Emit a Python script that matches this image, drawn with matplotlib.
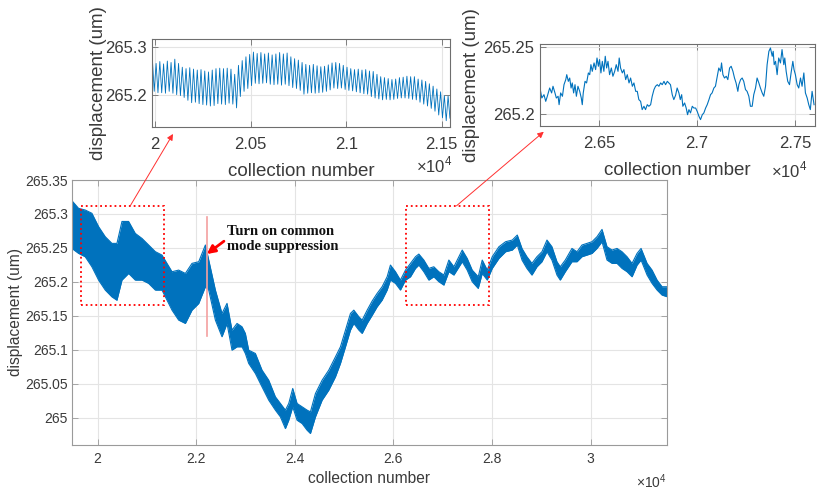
import numpy as np
import matplotlib.pyplot as plt
from matplotlib.patches import Rectangle, ConnectionPatch

plt.rcParams['font.family'] = ['Liberation Sans', 'DejaVu Sans']
plt.rcParams['mathtext.fontset'] = 'custom'
plt.rcParams['mathtext.rm'] = 'Liberation Sans'

# full record: upper / lower edge of the noisy displacement band
main_x = [19478, 19613, 19749, 19884, 20020, 20155, 20290, 20392, 20494, 20629,
          20764, 20900, 21035, 21171, 21306, 21509, 21644, 21780, 21915, 22051,
          22186, 22254, 22389, 22523, 22625, 22726, 22828, 22929, 22997, 23065,
          23200, 23335, 23471, 23606, 23708, 23809, 23877, 23958, 24046, 24148,
          24249, 24317, 24419, 24554, 24689, 24825, 24926, 25028, 25129, 25197,
          25299, 25366, 25468, 25570, 25670, 25771, 25873, 25940, 26042, 26143,
          26245, 26347, 26448, 26516, 26617, 26719, 26820, 26922, 27024, 27125,
          27227, 27396, 27497, 27599, 27721, 27802, 27904, 28005, 28141, 28276,
          28411, 28513, 28610, 28708, 28810, 28912, 29013, 29115, 29216, 29318,
          29385, 29487, 29622, 29724, 29825, 29927, 30029, 30130, 30232, 30333,
          30435, 30536, 30638, 30739, 30841, 30943, 31024, 31146, 31247, 31349,
          31450, 31552]
main_hi = [265.3196, 265.3083, 265.3058, 265.3010, 265.2813, 265.2665, 265.2567, 265.2567, 265.2890, 265.2890,
           265.2714, 265.2640, 265.2543, 265.2445, 265.2395, 265.2150, 265.2174, 265.2125, 265.2273, 265.2297,
           265.2543, 265.2322, 265.1880, 265.1536, 265.1684, 265.1290, 265.1389, 265.1340, 265.1242, 265.0996,
           265.0947, 265.0702, 265.0554, 265.0309, 265.0211, 265.0113, 265.0211, 265.0432, 265.0211, 265.0162,
           265.0113, 265.0088, 265.0358, 265.0554, 265.0702, 265.0898, 265.1045, 265.1291, 265.1536, 265.1585,
           265.1487, 265.1438, 265.1585, 265.1720, 265.1831, 265.1929, 265.2076, 265.2248, 265.2150, 265.2027,
           265.2174, 265.2273, 265.2371, 265.2410, 265.2322, 265.2199, 265.2223, 265.2150, 265.2101, 265.2322,
           265.2223, 265.2469, 265.2346, 265.2174, 265.2076, 265.2322, 265.2174, 265.2371, 265.2518, 265.2592,
           265.2616, 265.2690, 265.2490, 265.2371, 265.2273, 265.2371, 265.2444, 265.2616, 265.2518, 265.2297,
           265.2223, 265.2322, 265.2493, 265.2444, 265.2543, 265.2567, 265.2592, 265.2665, 265.2773, 265.2518,
           265.2469, 265.2493, 265.2444, 265.2371, 265.2273, 265.2420, 265.2493, 265.2273, 265.2174, 265.2027,
           265.1929, 265.1929]
main_lo = [265.2493, 265.2420, 265.2370, 265.2223, 265.2027, 265.1880, 265.1780, 265.1730, 265.2027, 265.2125,
           265.2027, 265.2027, 265.1978, 265.1880, 265.1880, 265.1585, 265.1438, 265.1389, 265.1585, 265.1683,
           265.1929, 265.1880, 265.1438, 265.1193, 265.1389, 265.0996, 265.1045, 265.1045, 265.0947, 265.0800,
           265.0653, 265.0456, 265.0260, 265.0113, 265.0014, 264.9842, 264.9965, 265.0162, 264.9965, 264.9916,
           264.9818, 264.9769, 265.0014, 265.0260, 265.0407, 265.0604, 265.0800, 265.1045, 265.1291, 265.1389,
           265.1291, 265.1242, 265.1389, 265.1510, 265.1634, 265.1732, 265.1880, 265.2027, 265.1978, 265.1880,
           265.2027, 265.2076, 265.2199, 265.2248, 265.2150, 265.2027, 265.2076, 265.2003, 265.1953, 265.2150,
           265.2101, 265.2297, 265.2174, 265.2003, 265.1904, 265.2125, 265.2027, 265.2199, 265.2346, 265.2444,
           265.2469, 265.2543, 265.2320, 265.2199, 265.2101, 265.2223, 265.2297, 265.2444, 265.2322, 265.2101,
           265.2027, 265.2150, 265.2297, 265.2297, 265.2371, 265.2395, 265.2420, 265.2493, 265.2592, 265.2322,
           265.2273, 265.2273, 265.2199, 265.2150, 265.2076, 265.2248, 265.2322, 265.2101, 265.1978, 265.1880,
           265.1806, 265.1782]

# zoom 1: oscillation peaks and troughs, one pair per cycle
inset1_start = 19985
inset1_period = 19.6
inset1_peaks = [265.276, 265.266, 265.270, 265.265, 265.271, 265.268, 265.275, 265.266, 265.258, 265.255,
                265.257, 265.254, 265.252, 265.253, 265.250, 265.248, 265.252, 265.255, 265.256, 265.255,
                265.256, 265.254, 265.243, 265.262, 265.272, 265.280, 265.285, 265.290, 265.287, 265.289,
                265.286, 265.288, 265.284, 265.286, 265.289, 265.286, 265.288, 265.280, 265.276, 265.273,
                265.268, 265.264, 265.262, 265.264, 265.261, 265.259, 265.260, 265.263, 265.267, 265.268,
                265.266, 265.262, 265.258, 265.255, 265.253, 265.254, 265.252, 265.253, 265.250, 265.249,
                265.243, 265.238, 265.236, 265.234, 265.232, 265.233, 265.236, 265.237, 265.239, 265.238,
                265.238, 265.233, 265.231, 265.228, 265.223, 265.218, 265.212, 265.206, 265.198, 265.197,
                265.196]
inset1_troughs = [265.207, 265.204, 265.204, 265.203, 265.207, 265.203, 265.200, 265.198, 265.194, 265.188,
                  265.183, 265.184, 265.181, 265.179, 265.178, 265.176, 265.177, 265.181, 265.180, 265.179,
                  265.182, 265.180, 265.172, 265.196, 265.207, 265.213, 265.219, 265.224, 265.223, 265.224,
                  265.225, 265.222, 265.221, 265.222, 265.220, 265.222, 265.219, 265.215, 265.213, 265.209,
                  265.201, 265.203, 265.204, 265.203, 265.204, 265.205, 265.207, 265.210, 265.214, 265.213,
                  265.214, 265.211, 265.209, 265.208, 265.206, 265.204, 265.202, 265.201, 265.196, 265.193,
                  265.191, 265.189, 265.190, 265.189, 265.190, 265.192, 265.193, 265.193, 265.192, 265.190,
                  265.189, 265.184, 265.180, 265.176, 265.171, 265.165, 265.157, 265.151, 265.145, 265.150,
                  265.158]

# zoom 2: trace after the suppression is on
inset2_x = [26198, 26209, 26220, 26229, 26237, 26249, 26259, 26266, 26276, 26283, 26292, 26297, 26305, 26314,
            26322, 26331, 26336, 26344, 26351, 26358, 26364, 26371, 26378, 26385, 26393, 26402, 26410, 26415,
            26420, 26429, 26437, 26446, 26453, 26459, 26466, 26475, 26483, 26490, 26497, 26503, 26510, 26517,
            26525, 26532, 26539, 26546, 26554, 26563, 26571, 26580, 26588, 26597, 26603, 26610, 26619, 26627,
            26636, 26644, 26653, 26661, 26670, 26678, 26687, 26695, 26703, 26712, 26720, 26729, 26737, 26746,
            26754, 26763, 26771, 26780, 26788, 26797, 26805, 26814, 26822, 26831, 26839, 26848, 26856, 26864,
            26873, 26881, 26890, 26898, 26907, 26914, 26921, 26927, 26936, 26944, 26951, 26958, 26966, 26975,
            26983, 26992, 27000, 27009, 27017, 27026, 27034, 27043, 27051, 27060, 27068, 27076, 27085, 27093,
            27102, 27110, 27119, 27124, 27131, 27139, 27148, 27156, 27165, 27173, 27182, 27190, 27198, 27207,
            27212, 27221, 27229, 27237, 27246, 27254, 27263, 27271, 27280, 27288, 27297, 27305, 27314, 27322,
            27331, 27339, 27348, 27356, 27365, 27373, 27382, 27387, 27392, 27399, 27407, 27415, 27424, 27432,
            27441, 27446, 27453, 27461, 27470, 27478, 27487, 27493, 27500, 27509, 27517, 27526, 27534, 27543,
            27551, 27560, 27568, 27576, 27585, 27590, 27595]
inset2_y = [265.2208, 265.2120, 265.2145, 265.2095, 265.2133, 265.2195, 265.2158, 265.2208, 265.2158, 265.2120,
            265.2133, 265.2070, 265.2158, 265.2133, 265.2220, 265.2258, 265.2295, 265.2245, 265.2270, 265.2195,
            265.2233, 265.2158, 265.2220, 265.2133, 265.2208, 265.2170, 265.2120, 265.2070, 265.2158, 265.2245,
            265.2233, 265.2308, 265.2295, 265.2370, 265.2320, 265.2383, 265.2333, 265.2420, 265.2358, 265.2408,
            265.2308, 265.2395, 265.2320, 265.2433, 265.2345, 265.2395, 265.2295, 265.2345, 265.2283, 265.2320,
            265.2370, 265.2320, 265.2420, 265.2345, 265.2308, 265.2333, 265.2258, 265.2295, 265.2233, 265.2270,
            265.2208, 265.2233, 265.2170, 265.2170, 265.2108, 265.2095, 265.2033, 265.2058, 265.2033, 265.2070,
            265.2058, 265.2070, 265.2133, 265.2183, 265.2208, 265.2220, 265.2208, 265.2233, 265.2220, 265.2245,
            265.2220, 265.2245, 265.2233, 265.2220, 265.2145, 265.2108, 265.2140, 265.2195, 265.2158, 265.2108,
            265.2145, 265.2058, 265.2083, 265.2045, 265.1995, 265.2033, 265.2008, 265.2058, 265.2045, 265.2045,
            265.2020, 265.1983, 265.1958, 265.1995, 265.2008, 265.2045, 265.2070, 265.2108, 265.2145, 265.2158,
            265.2195, 265.2208, 265.2283, 265.2345, 265.2320, 265.2383, 265.2295, 265.2270, 265.2283, 265.2258,
            265.2345, 265.2358, 265.2320, 265.2270, 265.2233, 265.2170, 265.2220, 265.2258, 265.2270, 265.2245,
            265.2183, 265.2170, 265.2133, 265.2058, 265.2058, 265.2145, 265.2195, 265.2270, 265.2233, 265.2195,
            265.2158, 265.2133, 265.2208, 265.2370, 265.2470, 265.2495, 265.2433, 265.2470, 265.2370, 265.2395,
            265.2295, 265.2420, 265.2383, 265.2483, 265.2370, 265.2420, 265.2320, 265.2245, 265.2220, 265.2308,
            265.2395, 265.2333, 265.2295, 265.2220, 265.2195, 265.2270, 265.2208, 265.2308, 265.2158, 265.2120,
            265.2070, 265.2033, 265.2170, 265.2120, 265.2070]

main_xticks = [20000, 22000, 24000, 26000, 28000, 30000]
main_xticklabels = ['2', '2.2', '2.4', '2.6', '2.8', '3']
main_yticks = [265, 265.05, 265.1, 265.15, 265.2, 265.25, 265.3, 265.35]
main_yticklabels = ['265', '265.05', '265.1', '265.15', '265.2', '265.25', '265.3', '265.35']
in1_xticks = [20000, 20500, 21000, 21500]
in1_xticklabels = ['2', '2.05', '2.1', '2.15']
in1_yticks = [265.2, 265.3]
in1_yticklabels = ['265.2', '265.3']
in2_xticks = [26500, 27000, 27500]
in2_xticklabels = ['2.65', '2.7', '2.75']
in2_yticks = [265.2, 265.25]
in2_yticklabels = ['265.2', '265.25']

blue = '#0072BD'
txt = '#3a3a3a'

fig = plt.figure(figsize=(8.17, 4.91), dpi=100)
ax = fig.add_axes([0.0881, 0.0937, 0.7283, 0.5397])
ax1 = fig.add_axes([0.1860, 0.7407, 0.3647, 0.1798])
ax2 = fig.add_axes([0.6610, 0.7428, 0.3366, 0.1676])


def style(a, edge, size, pad_x, pad_y):
    for s in a.spines.values():
        s.set_color(edge)
        s.set_linewidth(0.8)
    a.tick_params(direction='in', top=True, right=True, length=4, width=0.6,
                  color=edge, labelcolor=txt, labelsize=size)
    a.tick_params(axis='x', pad=pad_x)
    a.tick_params(axis='y', pad=pad_y)
    a.grid(True, color='#e4e4e4', linewidth=0.8)
    a.set_axisbelow(True)


# main record
mx = np.array(main_x)
ax.fill_between(mx, main_lo, main_hi, color=blue, linewidth=0)
ax.plot(mx, main_hi, color=blue, lw=0.8)
ax.plot(mx, main_lo, color=blue, lw=0.8)
ax.set_xlim(19480, 31550)
ax.set_ylim(264.96, 265.35)
ax.set_xticks(main_xticks, main_xticklabels)
ax.set_yticks(main_yticks, main_yticklabels)
style(ax, '#9a9a9a', 10, 5, 3)
ax.set_xlabel('collection number', fontsize=11.2, color=txt)
ax.set_ylabel('displacement (um)', fontsize=11.2, color=txt)
ax.xaxis.set_label_coords(0.5, -0.10)
ax.yaxis.set_label_coords(-0.082, 0.5)
ax.text(1.0, -0.138, r'$\times10^{4}$', transform=ax.transAxes, ha='right', va='center',
        fontsize=10, color=txt)

# zoom windows and the moment suppression is switched on
for x0 in (19667, 26264):
    ax.add_patch(Rectangle((x0, 265.166), 1680, 0.146, fill=False, edgecolor='red',
                           linestyle=':', linewidth=1.3, zorder=5))
ax.plot([22210, 22210], [265.120, 265.296], color='#f4a0a0', lw=1.2, zorder=4)
ax.annotate('Turn on common\nmode suppression', xy=(22215, 265.241), xytext=(22619, 265.263),
            fontsize=10.5, fontweight='bold', family='Liberation Serif', color='#111111',
            ha='left', va='center', linespacing=1.25,
            arrowprops=dict(arrowstyle='-|>', color='red', lw=2, mutation_scale=12,
                            shrinkA=0, shrinkB=0, relpos=(0, 0.5)))

# zoom 1
k = np.arange(len(inset1_peaks))
zx1 = np.column_stack([inset1_start + inset1_period * k,
                       inset1_start + inset1_period * (k + 0.5)]).ravel()
zy1 = np.column_stack([inset1_peaks, inset1_troughs]).ravel()
ax1.plot(zx1, zy1, color=blue, lw=0.6)
ax1.set_xlim(19983, 21543)
ax1.set_ylim(265.131, 265.3175)
ax1.set_xticks(in1_xticks, in1_xticklabels)
ax1.set_yticks(in1_yticks, in1_yticklabels)
style(ax1, '#6e6e6e', 12, 7, 4)
ax1.set_xlabel('collection number', fontsize=13.5, color=txt)
ax1.set_ylabel('displacement (um)', fontsize=13.5, color=txt)
ax1.xaxis.set_label_coords(0.5, -0.40)
ax1.yaxis.set_label_coords(-0.15, 0.5)
ax1.text(1.007, -0.427, r'$\times10^{4}$', transform=ax1.transAxes, ha='right', va='center',
         fontsize=12, color=txt)

# zoom 2
ax2.plot(inset2_x, inset2_y, color=blue, lw=0.8)
ax2.set_xlim(26200, 27600)
ax2.set_ylim(265.1908, 265.2525)
ax2.set_xticks(in2_xticks, in2_xticklabels)
ax2.set_yticks(in2_yticks, in2_yticklabels)
style(ax2, '#6e6e6e', 12, 7, 4)
ax2.set_xlabel('collection number', fontsize=13.5, color=txt)
ax2.set_ylabel('displacement (um)', fontsize=13.5, color=txt)
ax2.xaxis.set_label_coords(0.5, -0.43)
ax2.yaxis.set_label_coords(-0.218, 0.5)
ax2.text(0.971, -0.531, r'$\times10^{4}$', transform=ax2.transAxes, ha='right', va='center',
         fontsize=12, color=txt)

# red leader lines from the boxes up to the zooms
for a, start, end in ((ax1, (20662, 265.312), (20093, 265.117)),
                      (ax2, (27280, 265.312), (26219, 265.1867))):
    con = ConnectionPatch(xyA=start, coordsA=ax.transData, xyB=end, coordsB=a.transData,
                          arrowstyle='-|>', color='#ff3030', lw=0.7, mutation_scale=9)
    fig.add_artist(con)

fig.savefig('out.png', dpi=100)
